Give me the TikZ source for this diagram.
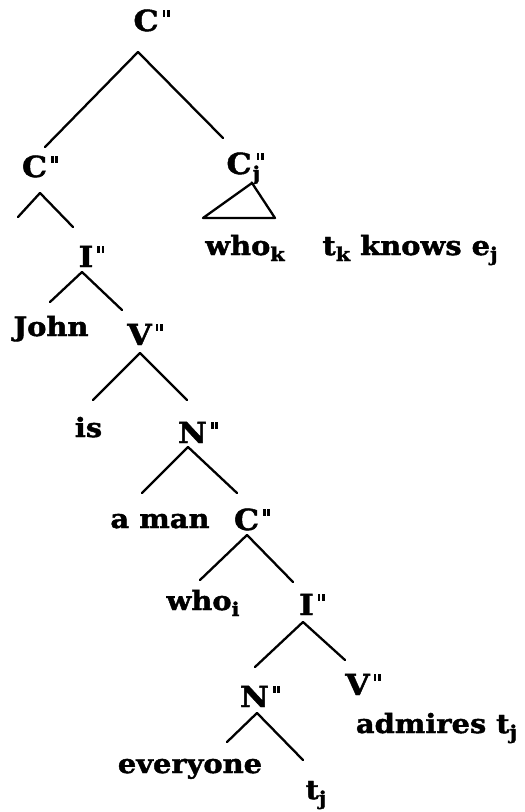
\documentclass[tikz,border=0pt]{standalone}
\usepackage{fontspec}
\setmainfont{DejaVu Serif}[FakeStretch=1.09,BoldFeatures={FakeBold=1.6,FakeStretch=1.09}]
\usetikzlibrary{calc}
\newcommand\sbs[1]{\raisebox{-6pt}{\fontsize{19}{19}\selectfont #1}}
\newcommand\dprj{\raisebox{14.5pt}{\rule{2.6pt}{7pt}\hspace{1.8pt}\rule{2.6pt}{7pt}}}
\newcommand\dpr{\hspace{4pt}\dprj}
\begin{document}
\begin{tikzpicture}[x=1pt,y=-1pt,
  lab/.style={anchor=base,inner sep=0pt,font=\fontsize{26.5}{30}\selectfont\bfseries},
  cat/.style={lab,font=\fontsize{29}{32}\selectfont\bfseries},
  br/.style={line width=2.3pt,line cap=round}]
\useasboundingbox[fill=white] (0,0) rectangle (525,812);
% nodes
\node[cat] (root) at (151.5,31) {C\dpr};
\node[cat] (c1) at (40,177) {C\dpr};
\node[cat] (cj) at (245,174) {C\rlap{\hspace{1pt}\sbs{j}}\hspace{5pt}\dprj};
\node[lab] (whok) at (245,255) {who\sbs{k}};
\node[lab] (tk) at (410,255) {t\sbs{k} knows e\sbs{j}};
\node[cat] (i1) at (91.5,267) {I\dpr};
\node[lab] (john) at (51,336) {John};
\node[cat] (v1) at (145,345) {V\dpr};
\node[lab] (is) at (88.5,437) {is};
\node[cat] (n1) at (198,443) {N\dpr};
\node[lab] (aman) at (160,528) {a man};
\node[cat] (c3) at (252,530) {C\dpr};
\node[lab] (whoi) at (203,610) {who\sbs{i}};
\node[cat] (i2) at (312,615) {I\dpr};
\node[cat] (n2) at (260,707) {N\dpr};
\node[cat] (v2) at (363,695) {V\dpr};
\node[lab] (admires) at (436.5,733) {admires\hspace{10pt}t\sbs{j}};
\node[lab] (everyone) at (190,773) {everyone};
\node[lab] (tj) at (316,799) {t\sbs{j}};
\coordinate (leaf) at ($(c1.base)+(-22,40)$);
% branches
\draw[br] ($(root.base)+(-13.5,21)$) -- ($(c1.base)+(5,-30)$);
\draw[br] ($(root.base)+(-13.5,21)$) -- ($(cj.base)+(-22,-36)$);
\draw[br] ($(c1.base)+(0,16)$) -- (leaf);
\draw[br] ($(c1.base)+(0,16)$) -- ($(i1.base)+(-18.5,-40)$);
\draw[br,line join=round] ($(cj.base)+(7,9)$) -- ($(cj.base)+(-42,44)$) -- ($(cj.base)+(30,44)$) -- cycle;
\draw[br] ($(i1.base)+(-9.5,5)$) -- ($(john.base)+(-1,-34)$);
\draw[br] ($(i1.base)+(-9.5,5)$) -- ($(v1.base)+(-23,-35)$);
\draw[br] ($(v1.base)+(-5,8)$) -- ($(is.base)+(4.5,-37)$);
\draw[br] ($(v1.base)+(-5,8)$) -- ($(n1.base)+(-11,-43)$);
\draw[br] ($(n1.base)+(-10,4)$) -- ($(aman.base)+(-18,-35)$);
\draw[br] ($(n1.base)+(-10,4)$) -- ($(c3.base)+(-15,-37)$);
\draw[br] ($(c3.base)+(-5,5)$) -- ($(whoi.base)+(-3,-30)$);
\draw[br] ($(c3.base)+(-5,5)$) -- ($(i2.base)+(-19,-33)$);
\draw[br] ($(i2.base)+(-9,7)$) -- ($(n2.base)+(-5,-40)$);
\draw[br] ($(i2.base)+(-9,7)$) -- ($(v2.base)+(-18,-35)$);
\draw[br] ($(n2.base)+(-3,6)$) -- ($(everyone.base)+(37,-31)$);
\draw[br] ($(n2.base)+(-3,6)$) -- ($(tj.base)+(-13,-39)$);
\end{tikzpicture}
\end{document}
